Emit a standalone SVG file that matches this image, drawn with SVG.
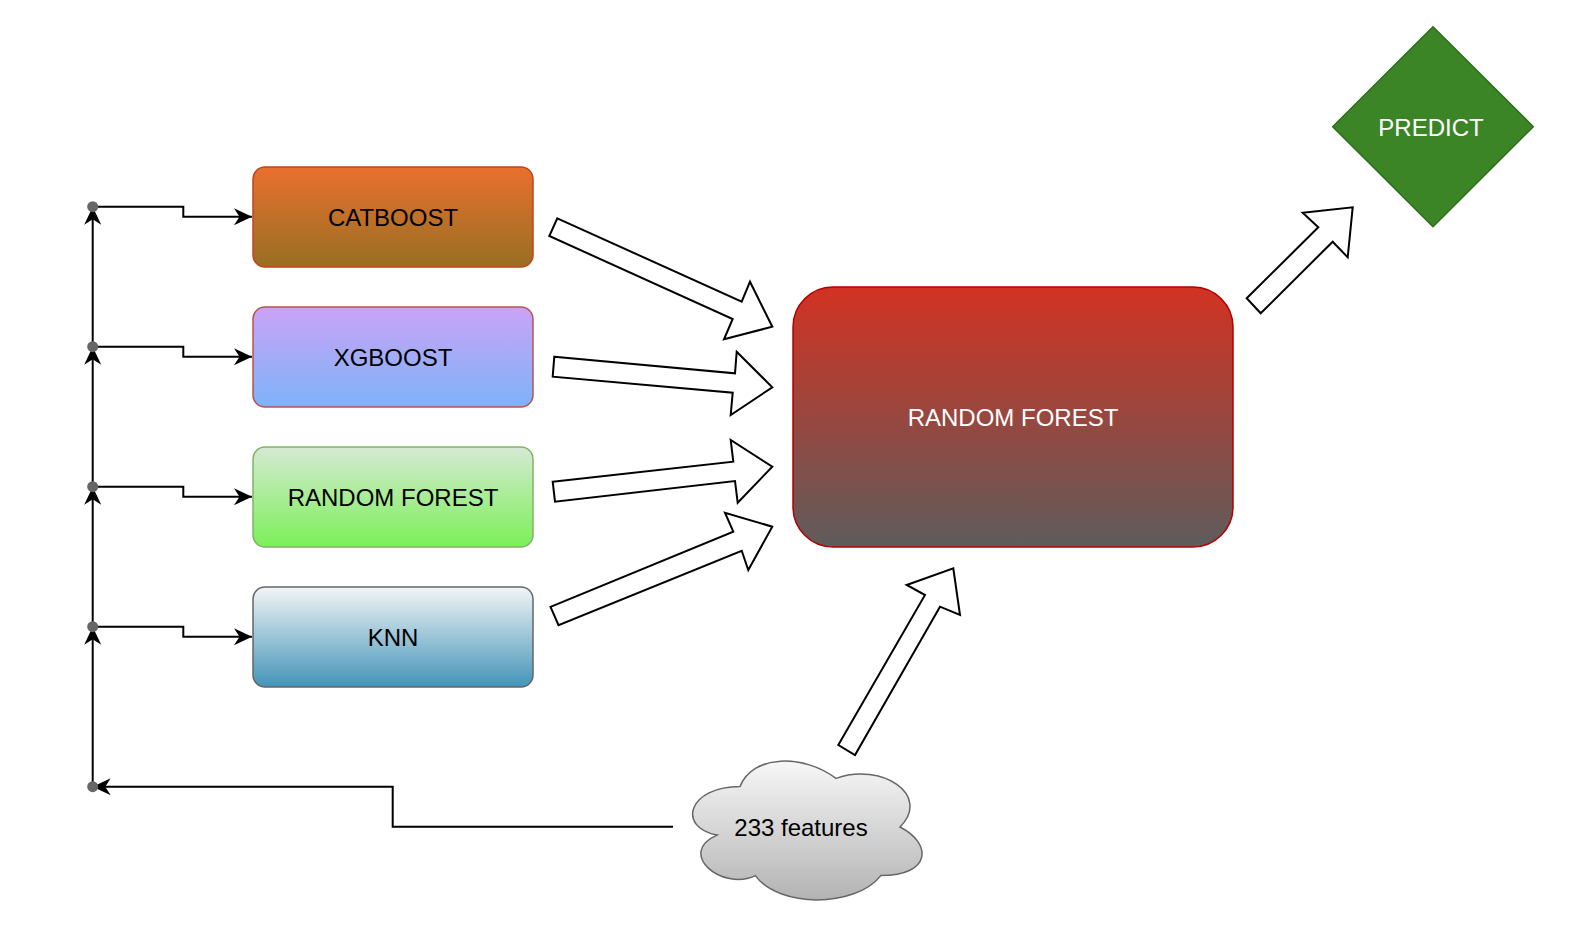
<svg xmlns="http://www.w3.org/2000/svg" width="1578" height="936" viewBox="0 0 1578 936">
<style>
.lbl{font-family:"Liberation Sans",Arial,Helvetica,sans-serif;font-size:24px;text-anchor:middle}
.dark{fill:#000}
.light{fill:#fff}
.conn{fill:none;stroke:#000;stroke-width:2}
.blk{fill:#fff;stroke:#000;stroke-width:2;stroke-linejoin:miter}
.dot{fill:#666}
</style>
<defs>
<linearGradient id="gCat" x1="0" y1="0" x2="0" y2="1"><stop offset="0" stop-color="#E9702E"/><stop offset="1" stop-color="#986F22"/></linearGradient>
<linearGradient id="gXg" x1="0" y1="0" x2="0" y2="1"><stop offset="0" stop-color="#CBA3F7"/><stop offset="1" stop-color="#7CB3F8"/></linearGradient>
<linearGradient id="gRf" x1="0" y1="0" x2="0" y2="1"><stop offset="0" stop-color="#D6E9D4"/><stop offset="1" stop-color="#7BF057"/></linearGradient>
<linearGradient id="gKnn" x1="0" y1="0" x2="0" y2="1"><stop offset="0" stop-color="#F2F5F6"/><stop offset="1" stop-color="#4494B9"/></linearGradient>
<linearGradient id="gBig" x1="0" y1="0" x2="0" y2="1"><stop offset="0" stop-color="#D23222"/><stop offset="1" stop-color="#5E5C5C"/></linearGradient>
<linearGradient id="gCloud" x1="0" y1="0" x2="0" y2="1"><stop offset="0" stop-color="#F7F7F7"/><stop offset="1" stop-color="#B3B3B3"/></linearGradient>
<marker id="arr" viewBox="-20 -10 22 20" refX="0" refY="0" markerWidth="22" markerHeight="20" markerUnits="userSpaceOnUse" orient="auto">
<path d="M0,0 L-18,-8.5 L-12.5,0 L-18,8.5 Z" fill="#000"/>
</marker>
</defs>

<g id="connectors">
<path class="conn" d="M92.7,786.7 V626.7" marker-end="url(#arr)"/>
<path class="conn" d="M92.7,626.7 V486.7" marker-end="url(#arr)"/>
<path class="conn" d="M92.7,486.7 V346.7" marker-end="url(#arr)"/>
<path class="conn" d="M92.7,346.7 V206.7" marker-end="url(#arr)"/>
<path class="conn" d="M92.7,206.7 H183.3 V216.7 H252" marker-end="url(#arr)"/>
<path class="conn" d="M92.7,346.7 H183.3 V356.7 H252" marker-end="url(#arr)"/>
<path class="conn" d="M92.7,486.7 H183.3 V496.7 H252" marker-end="url(#arr)"/>
<path class="conn" d="M92.7,626.7 H183.3 V636.7 H252" marker-end="url(#arr)"/>
<path class="conn" d="M673,826.7 H392.7 V786.7 H92.7" marker-end="url(#arr)"/>
<polygon class="blk" points="557.3,218.3 741.7,301.7 750,281.7 772.3,326.7 724,339.3 732.7,319 549.3,236"/>
<polygon class="blk" points="554.3,356.7 735,373.3 736.7,351.7 772.3,387.3 730.7,415 732.7,392.7 552.7,376.7"/>
<polygon class="blk" points="552.7,481.7 733.3,461.7 730.7,440 772.3,466.7 737.7,502.7 735,481 555,501.7"/>
<polygon class="blk" points="550.5,606.9 733.3,531.7 725,512.7 772.3,526.7 748.3,570 741.7,550.7 558.5,625.2"/>
<polygon class="blk" points="838.3,745 925,595 906.7,585 953.3,568.3 960,615 940,606.7 855,755"/>
<polygon class="blk" points="1246.7,298.3 1318.3,227.3 1302.7,212.7 1352.7,207.3 1347.7,257.3 1332.7,241.7 1260.7,313.3"/>
</g>

<g id="junctions">
<circle class="dot" cx="92.7" cy="206.7" r="5.5"/>
<circle class="dot" cx="92.7" cy="346.7" r="5.5"/>
<circle class="dot" cx="92.7" cy="486.7" r="5.5"/>
<circle class="dot" cx="92.7" cy="626.7" r="5.5"/>
<circle class="dot" cx="92.7" cy="786.7" r="5.5"/>
</g>

<g id="catboost">
<rect x="253" y="167" width="280" height="100" rx="12" fill="url(#gCat)" stroke="#C0441F" stroke-width="1.5"/>
<text class="lbl dark" x="393" y="225.5">CATBOOST</text>
</g>
<g id="xgboost">
<rect x="253" y="307" width="280" height="100" rx="12" fill="url(#gXg)" stroke="#B85450" stroke-width="1.5"/>
<text class="lbl dark" x="393" y="365.5">XGBOOST</text>
</g>
<g id="randomforest-small">
<rect x="253" y="447" width="280" height="100" rx="12" fill="url(#gRf)" stroke="#82B366" stroke-width="1.5"/>
<text class="lbl dark" x="393" y="505.5">RANDOM FOREST</text>
</g>
<g id="knn">
<rect x="253" y="587" width="280" height="100" rx="12" fill="url(#gKnn)" stroke="#666666" stroke-width="1.5"/>
<text class="lbl dark" x="393" y="645.5">KNN</text>
</g>
<g id="randomforest-main">
<rect x="793" y="287" width="440" height="260" rx="40" fill="url(#gBig)" stroke="#B20000" stroke-width="1.5"/>
<text class="lbl light" x="1013" y="425.5">RANDOM FOREST</text>
</g>
<g id="predict">
<polygon points="1433,26.7 1533.3,126.7 1433,226.7 1332.7,126.7" fill="#3B8527" stroke="#2D6E1A" stroke-width="1.5"/>
<text class="lbl light" x="1431" y="135.5">PREDICT</text>
</g>
<g id="features">
<path d="M740,786.5 C688.8,786.5 676,827 717,835.1 C676,852.9 722.1,891.8 755.4,875.6 C778.4,908 855.2,908 880.8,875.6 C932,875.6 932,843.2 900,827 C932,794.6 880.8,762.2 836,778.4 C804,754.1 752.8,754.1 740,786.5 Z" fill="url(#gCloud)" stroke="#666666" stroke-width="1.5"/>
<text class="lbl dark" x="801" y="835.5">233 features</text>
</g>
</svg>
